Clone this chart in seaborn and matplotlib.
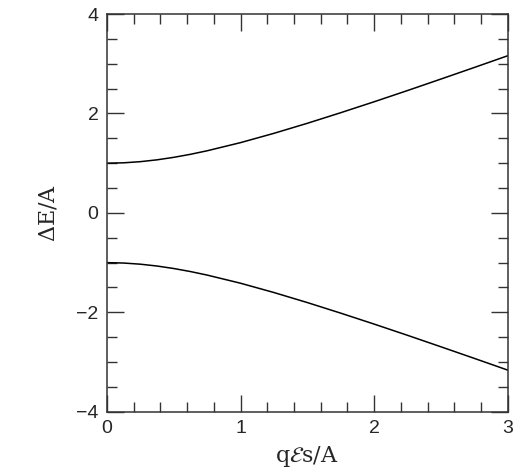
import matplotlib
matplotlib.use("Agg")
import matplotlib.pyplot as plt
import numpy as np
import pandas as pd
import seaborn as sns
from matplotlib.ticker import MultipleLocator

# values
x_vals = [0.0, 0.125, 0.25, 0.375, 0.5, 0.625, 0.75, 1.0, 1.25, 1.5, 1.75, 2.0, 2.25, 2.5, 2.75, 3.0]
upper_vals = [1.000, 1.008, 1.031, 1.068, 1.118, 1.179, 1.250, 1.414, 1.601, 1.803,
              2.016, 2.236, 2.462, 2.693, 2.926, 3.162]
lower_vals = [-v for v in upper_vals]
x_ticks = [0, 1, 2, 3]
x_ticklabels = ["0", "1", "2", "3"]
y_ticks = [-4, -2, 0, 2, 4]
y_ticklabels = ["\u22124", "\u22122", "0", "2", "4"]

d = pd.DataFrame({
    "x": x_vals + x_vals,
    "E": upper_vals + lower_vals,
    "branch": ["upper"] * len(x_vals) + ["lower"] * len(x_vals),
})

sns.set_style("ticks")
plt.rcParams["font.family"] = ["Liberation Sans", "DejaVu Sans"]
plt.rcParams["mathtext.fontset"] = "dejavuserif"

fig = plt.figure(figsize=(5.24, 4.69), dpi=100)
ax = fig.add_axes([0.204, 0.122, 0.765, 0.848])

sns.lineplot(data=d, x="x", y="E", units="branch", estimator=None,
             color="black", linewidth=1.1, ax=ax)

ax.set_xlim(0, 3)
ax.set_ylim(-4, 4)
ax.set_xticks(x_ticks, x_ticklabels, fontsize=14)
ax.set_yticks(y_ticks, y_ticklabels, fontsize=14)
ax.xaxis.set_minor_locator(MultipleLocator(0.2))
ax.yaxis.set_minor_locator(MultipleLocator(0.5))
ax.tick_params(which="both", direction="in", top=True, right=True,
               width=1, color="#333333", pad=6)
ax.tick_params(which="major", length=12)
ax.tick_params(which="minor", length=7)
for s in ax.spines.values():
    s.set_linewidth(1.1)
    s.set_color("#333333")

ax.set_xlabel(r"q$\mathcal{E}$s/A", fontsize=16, family="DejaVu Serif", labelpad=5)
ax.set_ylabel(r"$\Delta$E/A", fontsize=16, family="DejaVu Serif", labelpad=12)

fig.savefig("out.png", dpi=100)
